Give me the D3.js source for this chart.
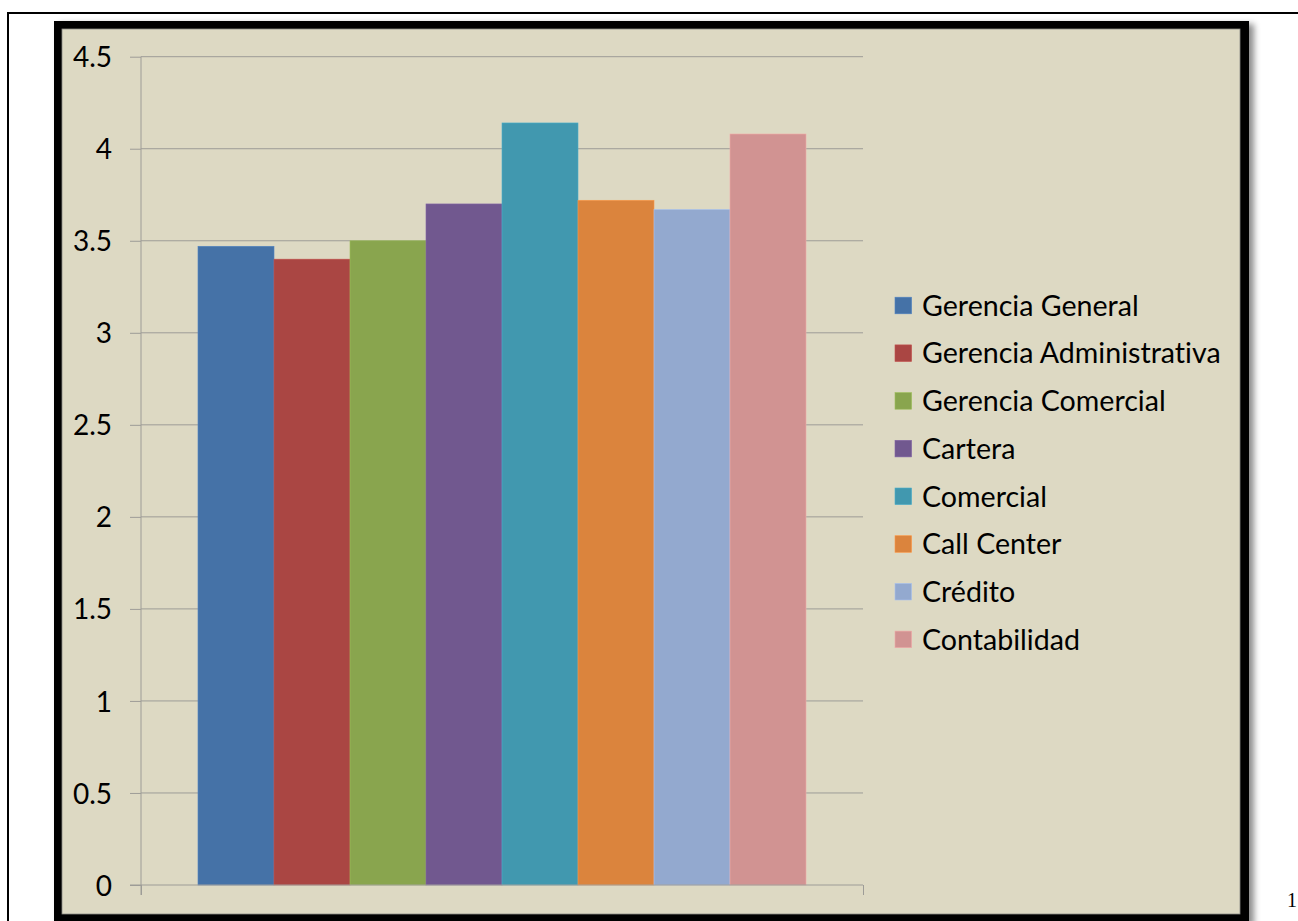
<!DOCTYPE html>
<html>
<head>
<meta charset="utf-8">
<script src="https://cdn.jsdelivr.net/npm/d3@7"></script>
<style>
  html, body { margin: 0; padding: 0; background: #ffffff; }
  svg { display: block; }
  text { font-variant-ligatures: none; font-feature-settings: "liga" 0; }
</style>
</head>
<body>
<svg id="chart" width="1298" height="921"></svg>
<script>
// ---- data ----
const categories = [""];
const seriesNames = ["Gerencia General", "Gerencia Administrativa", "Gerencia Comercial", "Cartera",
                     "Comercial", "Call Center", "Crédito", "Contabilidad"];
const seriesValues = [3.47, 3.40, 3.50, 3.70, 4.14, 3.72, 3.67, 4.08];
const seriesColors = ["#4572A7", "#AA4643", "#89A54E", "#71588F", "#4198AF", "#DB843D", "#93A9CF", "#D19392"];
const yTickValues = [0, 0.5, 1, 1.5, 2, 2.5, 3, 3.5, 4, 4.5];
const yTickLabels = ["0", "0.5", "1", "1.5", "2", "2.5", "3", "3.5", "4", "4.5"];

const FONT = "Lato, 'Open Sans', sans-serif";
const svg = d3.select("#chart");

// drop shadow filter
const defs = svg.append("defs");
const f = defs.append("filter").attr("id", "shadow").attr("x", "-5%").attr("y", "-5%").attr("width", "115%").attr("height", "115%");
f.append("feDropShadow").attr("dx", 5).attr("dy", 3).attr("stdDeviation", 3).attr("flood-color", "#000").attr("flood-opacity", 0.45);

// outer thin page frame
svg.append("line").attr("x1", 8).attr("x2", 1298).attr("y1", 13).attr("y2", 13).attr("stroke", "#000").attr("stroke-width", 2);
svg.append("line").attr("x1", 8).attr("x2", 8).attr("y1", 12).attr("y2", 921).attr("stroke", "#000").attr("stroke-width", 2);

// chart frame
svg.append("rect").attr("x", 54).attr("y", 21).attr("width", 1195).attr("height", 902)
  .attr("fill", "#000").attr("filter", "url(#shadow)");
svg.append("rect").attr("x", 62).attr("y", 29).attr("width", 1178).attr("height", 885)
  .attr("fill", "#DDD9C3").attr("stroke", "#8a8a84").attr("stroke-width", 0.8);

// scales
const plotLeft = 141, plotRight = 863, plotTop = 56.7, plotBottom = 885;
const y = d3.scaleLinear().domain([0, 4.5]).range([plotBottom, plotTop]);
const x0 = d3.scaleBand().domain(categories).range([plotLeft, plotRight]).paddingInner(0).paddingOuter(0.09375);
const x1 = d3.scaleBand().domain(seriesNames).range([0, x0.bandwidth()]);

// gridlines
const gGrid = svg.append("g");
gGrid.selectAll("line").data(yTickValues.filter(d => d > 0)).join("line")
  .attr("x1", plotLeft).attr("x2", plotRight)
  .attr("y1", d => y(d)).attr("y2", d => y(d))
  .attr("stroke", "#9d9c97").attr("stroke-width", 1);

// bars
const gBars = svg.append("g");
categories.forEach(cat => {
  gBars.selectAll("rect").data(seriesNames.map((s, i) => ({ s, v: seriesValues[i], c: seriesColors[i] })))
    .join("rect")
    .attr("x", d => x0(cat) + x1(d.s))
    .attr("width", x1.bandwidth())
    .attr("y", d => y(d.v))
    .attr("height", d => y(0) - y(d.v))
    .attr("fill", d => d.c)
    .attr("stroke", d => d3.color(d.c).brighter(0.4))
    .attr("stroke-width", 0.6);
});

// y axis
const yAxis = d3.axisLeft(y).tickValues(yTickValues).tickFormat((d, i) => yTickLabels[i]).tickSize(11).tickPadding(18);
const gy = svg.append("g").attr("transform", `translate(${plotLeft},0)`).call(yAxis);
gy.select(".domain").remove();
gy.append("line").attr("x1", 0).attr("x2", 0).attr("y1", plotTop).attr("y2", plotBottom + 10).attr("stroke", "#9d9c97");
gy.selectAll(".tick line").attr("stroke", "#9d9c97");
gy.selectAll(".tick text").attr("fill", "#000").style("font-family", FONT).style("font-size", "28px").attr("dy", "0.36em");

// x axis
const xAxis = d3.axisBottom(d3.scaleLinear().domain([0, 1]).range([plotLeft, plotRight])).tickValues([0, 1]).tickSize(10).tickFormat("");
const gx = svg.append("g").attr("transform", `translate(0,${plotBottom})`).call(xAxis);
gx.select(".domain").remove();
gx.append("line").attr("x1", plotLeft - 11).attr("x2", plotRight).attr("y1", 0).attr("y2", 0).attr("stroke", "#9d9c97");
gx.selectAll(".tick line").attr("stroke", "#9d9c97");

// legend
const legend = svg.append("g").attr("transform", "translate(895,305.5)");
const items = legend.selectAll("g").data(seriesNames).join("g")
  .attr("transform", (d, i) => `translate(0,${i * 47.7})`);
items.append("rect").attr("x", 0).attr("y", -8.3).attr("width", 16.6).attr("height", 16.6)
  .attr("fill", (d, i) => seriesColors[i]).attr("stroke", (d, i) => d3.color(seriesColors[i]).brighter(0.4)).attr("stroke-width", 0.6);
items.append("text").attr("x", 27).attr("y", 0).attr("dy", "0.36em")
  .style("font-family", FONT).style("font-size", "28.6px").attr("fill", "#000")
  .text(d => d);

// page number fragment
svg.append("text").attr("x", 1287).attr("y", 907).style("font-family", "'Liberation Serif', serif").style("font-size", "20px").text("1");
</script>
</body>
</html>
